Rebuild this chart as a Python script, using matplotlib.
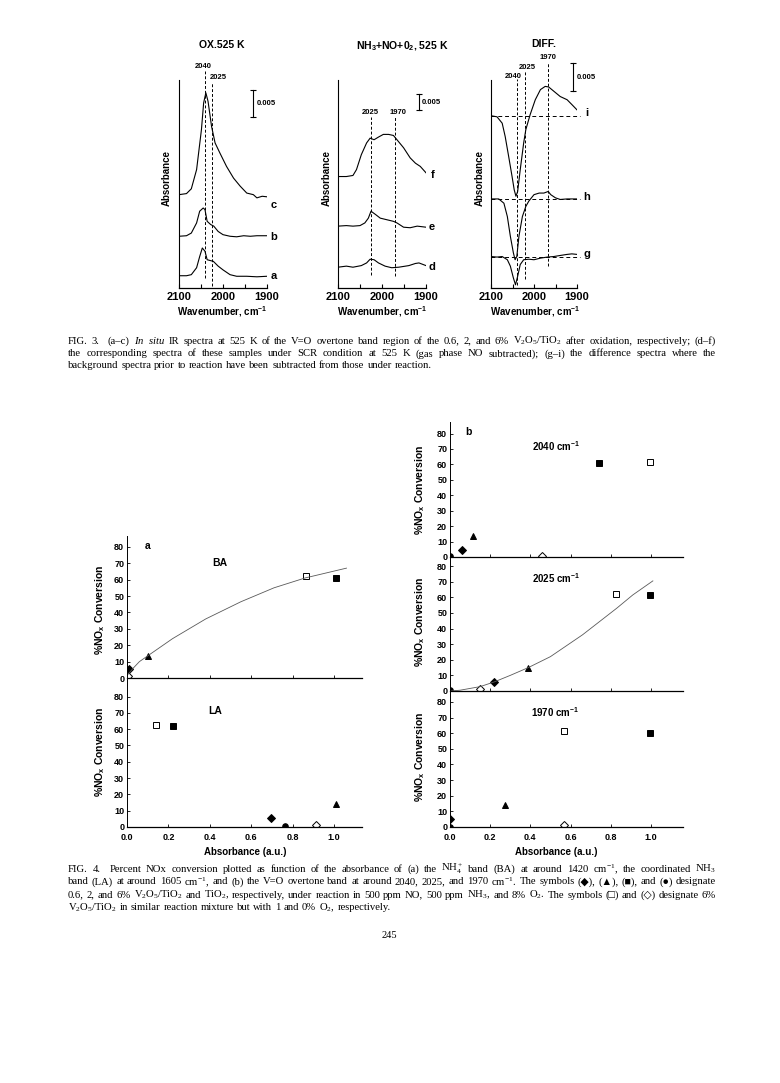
import matplotlib
matplotlib.use("Agg")
import matplotlib.pyplot as plt

plt.rcParams['mathtext.fontset'] = 'custom'
plt.rcParams['mathtext.rm'] = 'Liberation Serif'
plt.rcParams['mathtext.it'] = 'Liberation Serif:italic'
plt.rcParams['mathtext.bf'] = 'Liberation Sans:bold'
plt.rcParams['font.family'] = 'Liberation Sans'

W, H = 780, 1083
SERIF = ['Liberation Serif', 'DejaVu Sans']

# ---- FIG 3 spectra (wavenumber, absorbance) ----
wn_a = [2100, 2083, 2072, 2060, 2053, 2047, 2041, 2036, 2022, 2011, 2000, 1984, 1969, 1946, 1923, 1900]
ab_a = [0.0023, 0.0023, 0.0025, 0.0038, 0.0059, 0.0075, 0.0069, 0.0053, 0.0050, 0.0041, 0.0034, 0.0025, 0.0022, 0.0022, 0.0021, 0.0022]
wn_b = [2100, 2083, 2072, 2060, 2053, 2045, 2041, 2036, 2028, 2021, 2011, 2000, 1984, 1969, 1953, 1938, 1923, 1900]
ab_b = [0.0097, 0.0098, 0.0103, 0.0122, 0.0144, 0.0150, 0.0147, 0.0125, 0.0119, 0.0116, 0.0106, 0.0100, 0.0097, 0.0096, 0.0098, 0.0097, 0.0098, 0.0098]
wn_c = [2100, 2083, 2072, 2060, 2049, 2044, 2039, 2034, 2026, 2018, 2007, 1992, 1976, 1961, 1946, 1931, 1923, 1911, 1900]
ab_c = [0.0175, 0.0177, 0.0186, 0.0222, 0.0297, 0.0347, 0.0366, 0.0350, 0.0303, 0.0272, 0.0253, 0.0228, 0.0206, 0.0191, 0.0178, 0.0175, 0.0169, 0.0172, 0.0171]

wn_d = [2100, 2081, 2066, 2047, 2035, 2027, 2018, 2008, 1993, 1978, 1962, 1939, 1924, 1916, 1900]
ab_d = [0.0039, 0.0041, 0.0039, 0.0042, 0.0047, 0.0054, 0.0053, 0.0047, 0.0041, 0.0038, 0.0039, 0.0042, 0.0046, 0.0047, 0.0042]
wn_e = [2100, 2081, 2066, 2050, 2039, 2031, 2025, 2015, 2004, 1989, 1974, 1966, 1951, 1936, 1920, 1900]
ab_e = [0.0116, 0.0117, 0.0116, 0.0117, 0.0122, 0.0131, 0.0144, 0.0138, 0.0131, 0.0128, 0.0125, 0.0122, 0.0114, 0.0113, 0.0116, 0.0114]
wn_f = [2100, 2081, 2066, 2058, 2047, 2035, 2027, 2018, 2008, 1997, 1985, 1974, 1966, 1951, 1936, 1924, 1913, 1900]
ab_f = [0.0209, 0.0209, 0.0211, 0.0222, 0.0250, 0.0272, 0.0281, 0.0278, 0.0283, 0.0288, 0.0288, 0.0286, 0.0278, 0.0263, 0.0244, 0.0234, 0.0228, 0.0216]

wn_g = [2100, 2086, 2074, 2062, 2055, 2048, 2043, 2038, 2032, 2024, 2012, 2000, 1985, 1969, 1954, 1939, 1923, 1912, 1900]
ab_g = [0.0059, 0.0058, 0.0059, 0.0053, 0.0041, 0.0019, 0.0006, 0.0022, 0.0044, 0.0053, 0.0054, 0.0053, 0.0056, 0.0058, 0.0059, 0.0061, 0.0063, 0.0064, 0.0063]
wn_h = [2100, 2082, 2070, 2062, 2055, 2048, 2044, 2040, 2035, 2027, 2019, 2012, 2000, 1988, 1977, 1967, 1961, 1950, 1939, 1923, 1900]
ab_h = [0.0167, 0.0167, 0.0159, 0.0134, 0.0097, 0.0066, 0.0053, 0.0059, 0.0097, 0.0134, 0.0153, 0.0163, 0.0175, 0.0178, 0.0178, 0.0181, 0.0175, 0.0169, 0.0166, 0.0167, 0.0167]
wn_i = [2100, 2086, 2074, 2067, 2059, 2051, 2046, 2042, 2038, 2032, 2024, 2019, 2009, 1997, 1985, 1974, 1966, 1954, 1939, 1923, 1912, 1900]
ab_i = [0.0323, 0.0321, 0.0309, 0.0284, 0.0247, 0.0209, 0.0184, 0.0172, 0.0181, 0.0222, 0.0272, 0.0297, 0.0325, 0.0353, 0.0372, 0.0378, 0.0377, 0.0369, 0.0359, 0.0353, 0.0344, 0.0334]

# ---- FIG 4 conversion data, symbol order: 0.6%, 2%, 6%, TiO2, 6% (1% O2), 6% (0% O2) ----
ba_x = [0.01, 0.103, 1.01, 0.0, 0.865, 0.005]
ba_y = [5.5, 13.5, 61.0, 0.0, 62.0, 1.5]
la_x = [0.696, 1.008, 0.224, 0.763, 0.14, 0.913]
la_y = [5.7, 14.0, 62.0, 0.5, 62.6, 1.5]
v2040_x = [0.058, 0.116, 0.741, 0.0, 0.998, 0.456]
v2040_y = [4.7, 13.8, 61.0, 0.5, 61.6, 0.8]
v2025_x = [0.219, 0.39, 0.998, 0.0, 0.826, 0.149]
v2025_y = [5.6, 14.5, 61.2, 0.5, 62.0, 1.3]
v1970_x = [0.0, 0.275, 0.995, 0.0, 0.569, 0.569]
v1970_y = [5.3, 13.9, 60.4, 0.3, 61.7, 1.3]

ba_fit_x = [0.0, 0.03, 0.06, 0.10, 0.22, 0.38, 0.55, 0.71, 0.86, 1.06]
ba_fit_y = [1.5, 6.0, 10.0, 13.5, 24.0, 36.0, 46.5, 55.0, 61.0, 67.0]
v2025_fit_x = [0.0, 0.05, 0.15, 0.22, 0.30, 0.39, 0.50, 0.58, 0.66, 0.75, 0.83, 0.91, 1.01]
v2025_fit_y = [0.0, 0.5, 2.8, 5.8, 10.0, 15.0, 22.0, 29.0, 36.0, 45.0, 53.0, 61.5, 70.5]

symbols = ['D', '^', 's', 'o', 's', 'D']
sym_face = ['black', 'black', 'black', 'black', 'white', 'white']
sym_size = [4.2, 4.2, 3.8, 4.0, 4.2, 4.4]

fig = plt.figure(figsize=(7.8, 10.83), dpi=100)


def box(l, t, r, b):
    return fig.add_axes([l / W, 1 - b / H, (r - l) / W, (b - t) / H])


def ft(x, y, s, **kw):
    return fig.text(x / W, 1 - y / H, s, **kw)


def bold_ticks(ax):
    for lab in ax.get_xticklabels() + ax.get_yticklabels():
        lab.set_fontweight('bold')


def spectrum_axes(l, t, r, b):
    ax = box(l, t, r, b)
    ax.set_xlim(2100, 1900)
    ax.set_ylim(0, 0.039)
    ax.spines['top'].set_visible(False)
    ax.spines['right'].set_visible(False)
    ax.spines['left'].set_linewidth(0.8)
    ax.spines['bottom'].set_linewidth(0.9)
    ax.set_yticks([])
    ax.set_xticks([2100, 2000, 1900])
    ax.set_xticks([2050, 1950], minor=True)
    ax.tick_params(axis='x', which='both', direction='in', length=3, width=0.8, labelsize=8, pad=3)
    bold_ticks(ax)
    ax.patch.set_alpha(0)
    return ax


def vdash(ax, x, y0, y1):
    ax.plot([x, x], [y0, y1], color='black', lw=0.7, ls=(0, (3, 2)), clip_on=False)


def scale_bar(ax, x, y0, y1):
    ax.plot([x, x], [y0, y1], color='black', lw=0.8, clip_on=False)
    ax.plot([x, x], [y0, y1], ls='none', marker='_', ms=5, mew=0.8, color='black', clip_on=False)
    ax.text(x - 8, (y0 + y1) / 2, '0.005', fontsize=5.5, fontweight='bold', va='center', ha='left')


def small(ax, x, y, s):
    ax.text(x, y, s, fontsize=5.5, fontweight='bold', ha='center', va='center', clip_on=False)


def letter(ax, x, y, s):
    ax.text(x, y, s, fontsize=8, fontweight='bold', ha='center', va='center', clip_on=False)


kw = dict(color='black', lw=0.8)

# panel a-c
ax1 = spectrum_axes(179, 80, 267, 288)
ax1.plot(wn_a, ab_a, **kw)
ax1.plot(wn_b, ab_b, **kw)
ax1.plot(wn_c, ab_c, **kw)
vdash(ax1, 2040, 0.0019, 0.0406)
vdash(ax1, 2025, 0.0003, 0.0384)
small(ax1, 2045, 0.0416, '2040')
small(ax1, 2011, 0.0395, '2025')
scale_bar(ax1, 1931, 0.0321, 0.0371)
letter(ax1, 1884, 0.0022, 'a')
letter(ax1, 1884, 0.0095, 'b')
letter(ax1, 1884, 0.0155, 'c')

# panel d-f
ax2 = spectrum_axes(338, 80, 426, 288)
ax2.plot(wn_d, ab_d, **kw)
ax2.plot(wn_e, ab_e, **kw)
ax2.plot(wn_f, ab_f, **kw)
vdash(ax2, 2025, 0.0025, 0.0321)
vdash(ax2, 1970, 0.0022, 0.0321)
small(ax2, 2026, 0.0329, '2025')
small(ax2, 1963, 0.0329, '1970')
scale_bar(ax2, 1917, 0.0333, 0.0364)
letter(ax2, 1886, 0.0039, 'd')
letter(ax2, 1886, 0.0114, 'e')
letter(ax2, 1886, 0.0212, 'f')

# panel g-i
ax3 = spectrum_axes(491, 80, 577, 288)
ax3.plot(wn_g, ab_g, **kw)
ax3.plot(wn_h, ab_h, **kw)
ax3.plot(wn_i, ab_i, **kw)
for lvl in [ab_g[0], ab_h[0], ab_i[0]]:
    ax3.plot([2100, 1892], [lvl, lvl], color='black', lw=0.7, ls=(0, (4, 3)), clip_on=False)
vdash(ax3, 2040, 0.0006, 0.0391)
vdash(ax3, 2022, 0.0016, 0.0409)
vdash(ax3, 1968, 0.0041, 0.0422)
small(ax3, 2049, 0.0397, '2040')
small(ax3, 2016, 0.0414, '2025')
small(ax3, 1968, 0.0432, '1970')
scale_bar(ax3, 1909, 0.0369, 0.0422)
letter(ax3, 1877, 0.0064, 'g')
letter(ax3, 1877, 0.0171, 'h')
letter(ax3, 1877, 0.0328, 'i')

for xc in [222, 382, 535]:
    ft(xc, 312, 'Wavenumber, cm$^{\\mathbf{-1}}$', fontsize=7, fontweight='bold', ha='center', va='center')
for xc in [167, 327, 480]:
    ft(xc, 178, 'Absorbance', fontsize=7, fontweight='bold', ha='center', va='center', rotation=90)
ft(222, 45, 'OX.525 K', fontsize=7.5, fontweight='bold', ha='center', va='center')
ft(402, 45, 'NH$_{\\mathbf{3}}$+NO+0$_{\\mathbf{2}}$, 525 K', fontsize=7.5, fontweight='bold', ha='center', va='center')
ft(544, 44, 'DIFF.', fontsize=7.5, fontweight='bold', ha='center', va='center')


# ---- FIG 4 ----
def conv_axes(l, t, r, b, ytop, xmax, xs, ys, bottom=False):
    ax = box(l, t, r, b)
    ax.set_xlim(0, xmax)
    ax.set_ylim(0, ytop)
    ax.spines['top'].set_visible(False)
    ax.spines['right'].set_visible(False)
    ax.spines['left'].set_linewidth(0.7)
    ax.spines['bottom'].set_linewidth(0.9)
    ax.set_yticks(range(0, 81, 10))
    ax.set_xticks([0.0, 0.2, 0.4, 0.6, 0.8, 1.0])
    ax.set_xticklabels(['0.0', '0.2', '0.4', '0.6', '0.8', '1.0'])
    ax.tick_params(direction='in', length=2.5, width=0.6, labelsize=6.5, pad=2)
    ax.tick_params(axis='x', pad=4)
    if not bottom:
        ax.tick_params(labelbottom=False)
    bold_ticks(ax)
    for x, y, m, fc, ms in zip(xs, ys, symbols, sym_face, sym_size):
        ax.plot(x, y, marker=m, ms=ms, mfc=fc, mec='black', mew=0.7, ls='none')
    ax.patch.set_alpha(0)
    return ax


ax_ba = conv_axes(127, 536, 362, 678, 86.6, 1.135, ba_x, ba_y)
ax_ba.plot(ba_fit_x, ba_fit_y, color='0.35', lw=0.6)
ax_ba.text(0.087, 80.5, 'a', fontsize=7.5, fontweight='bold', va='center')
ax_ba.text(0.45, 70, 'BA', fontsize=7.5, fontweight='bold', ha='center', va='center')

ax_la = conv_axes(127, 678, 362, 827, 91.4, 1.135, la_x, la_y, bottom=True)
ax_la.text(0.425, 71, 'LA', fontsize=7.5, fontweight='bold', ha='center', va='center')

ax_40 = conv_axes(450, 422, 683, 557, 87.5, 1.16, v2040_x, v2040_y)
ax_40.text(0.075, 81, 'b', fontsize=7.5, fontweight='bold', va='center')
ax_40.text(0.53, 71.5, '2040 cm$^{\\mathbf{-1}}$', fontsize=7, fontweight='bold', ha='center', va='center')

ax_25 = conv_axes(450, 557, 683, 691, 85.8, 1.16, v2025_x, v2025_y)
ax_25.plot(v2025_fit_x, v2025_fit_y, color='0.35', lw=0.6)
ax_25.text(0.53, 72, '2025 cm$^{\\mathbf{-1}}$', fontsize=7, fontweight='bold', ha='center', va='center')

ax_70 = conv_axes(450, 691, 683, 827, 87.0, 1.16, v1970_x, v1970_y, bottom=True)
ax_70.text(0.525, 73, '1970 cm$^{\\mathbf{-1}}$', fontsize=7, fontweight='bold', ha='center', va='center')

ylab = '%NO$_{\\mathbf{x}}$ Conversion'
for xc, yc in [(100, 610), (100, 752), (420, 490), (420, 622), (420, 757)]:
    ft(xc, yc, ylab, fontsize=7.5, fontweight='bold', ha='center', va='center', rotation=90)
ft(245, 852, 'Absorbance (a.u.)', fontsize=7, fontweight='bold', ha='center', va='center')
ft(556, 852, 'Absorbance (a.u.)', fontsize=7, fontweight='bold', ha='center', va='center')


# ---- captions (justified word by word) ----
renderer = fig.canvas.get_renderer()


def caption_line(y, text, justify=True, x0=68, x1=716, size=7.7):
    words = text.split(' ')
    texts = [ft(0, y, w, fontsize=size, family=SERIF, ha='left', va='center') for w in words]
    widths = [t.get_window_extent(renderer).width for t in texts]
    if justify and len(words) > 1:
        gap = ((x1 - x0) - sum(widths)) / (len(words) - 1)
    else:
        gap = size * 0.27 * 100 / 72
    x = x0
    for t, w in zip(texts, widths):
        t.set_x(x / W)
        x += w + gap


caption_line(341, 'FIG. 3.  (a\u2013c) $\\mathit{In}$ $\\mathit{situ}$ IR spectra at 525 K of the V=O overtone band region of the 0.6, 2, and 6% V$_2$O$_5$/TiO$_2$ after oxidation, respectively; (d\u2013f)')
caption_line(354, 'the corresponding spectra of these samples under SCR condition at 525 K (gas phase NO subtracted); (g\u2013i) the difference spectra where the')
caption_line(366, 'background spectra prior to reaction have been subtracted from those under reaction.', justify=False)

caption_line(869, 'FIG. 4.  Percent NOx conversion plotted as function of the absorbance of (a) the NH$_4^+$ band (BA) at around 1420 cm$^{-1}$, the coordinated NH$_3$')
caption_line(882, 'band (LA) at around 1605 cm$^{-1}$, and (b) the V=O overtone band at around 2040, 2025, and 1970 cm$^{-1}$. The symbols (\u25c6), (\u25b2), (\u25a0), and (\u25cf) designate')
caption_line(895, '0.6, 2, and 6% V$_2$O$_5$/TiO$_2$ and TiO$_2$, respectively, under reaction in 500 ppm NO, 500 ppm NH$_3$, and 8% O$_2$. The symbols (\u25a1) and (\u25c7) designate 6%')
caption_line(908, 'V$_2$O$_5$/TiO$_2$ in similar reaction mixture but with 1 and 0% O$_2$, respectively.', justify=False)

ft(389, 936, '245', fontsize=7.5, family=SERIF, ha='center', va='center')

fig.savefig('out.png', dpi=100)
